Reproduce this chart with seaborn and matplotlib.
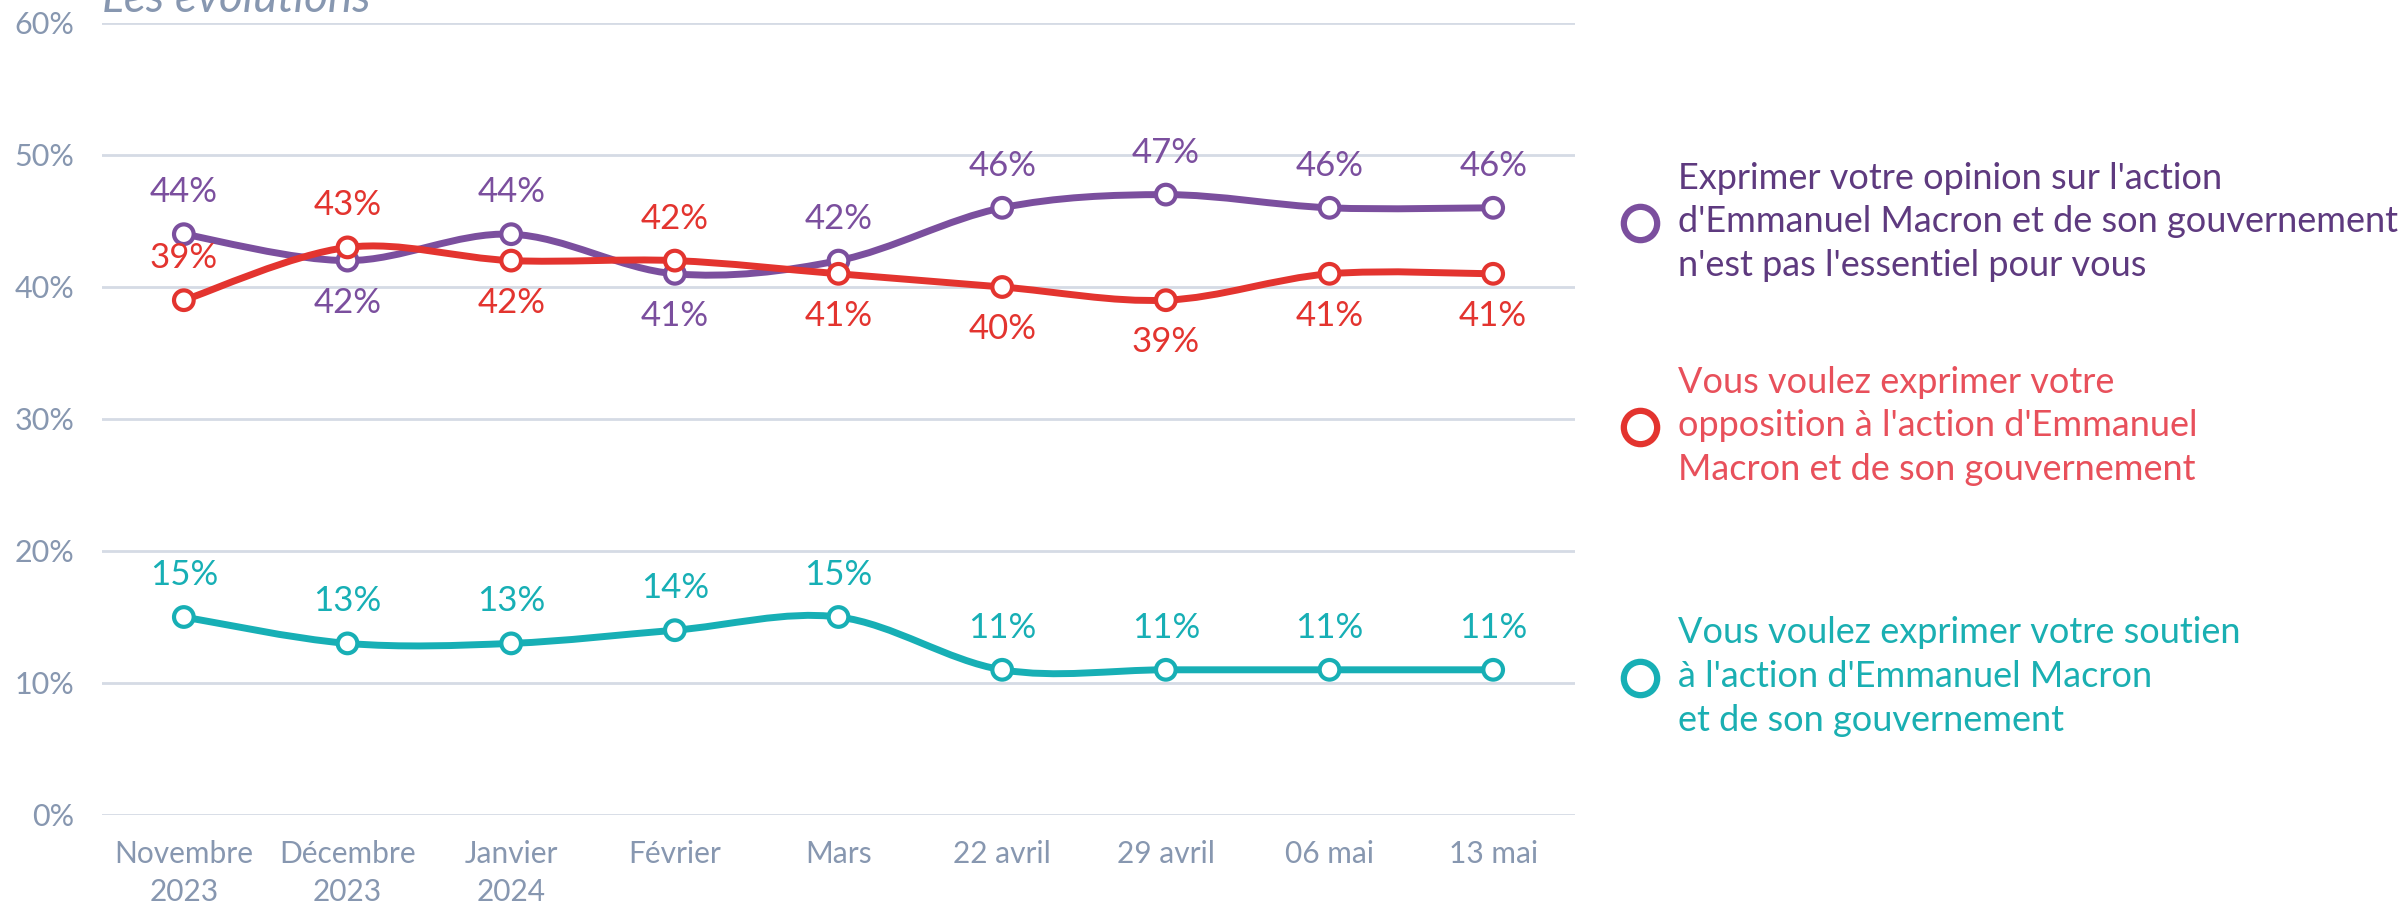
import numpy as np
import pandas as pd
import matplotlib.pyplot as plt
import seaborn as sns
from matplotlib.path import Path
from matplotlib.patches import PathPatch
from matplotlib.lines import Line2D

# ----- data -----
periods = ['Novembre\n2023', 'Décembre\n2023', 'Janvier\n2024', 'Février', 'Mars',
           '22 avril', '29 avril', '06 mai', '13 mai']
opinion_pas_essentiel = [44, 42, 44, 41, 42, 46, 47, 46, 46]
opposition = [39, 43, 42, 42, 41, 40, 39, 41, 41]
soutien = [15, 13, 13, 14, 15, 11, 11, 11, 11]

series_names = ["Exprimer votre opinion sur l'action\nd'Emmanuel Macron et de son gouvernement\nn'est pas l'essentiel pour vous",
                "Vous voulez exprimer votre\nopposition à l'action d'Emmanuel\nMacron et de son gouvernement",
                "Vous voulez exprimer votre soutien\nà l'action d'Emmanuel Macron\net de son gouvernement"]

# label side: +1 above the point, -1 below
label_side = [[1, -1, 1, -1, 1, 1, 1, 1, 1],
              [1, 1, -1, 1, -1, -1, -1, -1, -1],
              [1, 1, 1, 1, 1, 1, 1, 1, 1]]

line_colors = ['#7B4F9E', '#E3342F', '#17AFB5']
legend_text_colors = ['#5E3A7F', '#E8505B', '#1AAFB2']
grey = '#8797B0'

df = pd.DataFrame({'x': np.tile(np.arange(len(periods)), 3),
                   'value': opinion_pas_essentiel + opposition + soutien,
                   'serie': np.repeat(series_names, len(periods))})

plt.rcParams['font.family'] = ['Lato', 'DejaVu Sans']

fig = plt.figure(figsize=(24.02, 9.06), dpi=100)
ax = fig.add_axes([102 / 2402, 91 / 906, (1575 - 102) / 2402, (815 - 23) / 906])


#----------------------------------------------------------
def smooth_path(xs, ys):
  """Excel-like smoothed line as cubic Bezier path (Catmull-Rom control points)"""
  pts = np.column_stack([xs, ys]).astype(float)
  ext = np.vstack([pts[0], pts, pts[-1]])
  verts = [pts[0]]
  codes = [Path.MOVETO]
  for i in range(len(pts) - 1):
    p0, p1, p2, p3 = ext[i], ext[i + 1], ext[i + 2], ext[i + 3]
    verts += [p1 + (p2 - p0) / 6, p2 - (p3 - p1) / 6, p2]
    codes += [Path.CURVE4] * 3
  return Path(verts, codes)


for name, color in zip(series_names, line_colors):
  sub = df[df['serie'] == name]
  ax.add_patch(PathPatch(smooth_path(sub['x'], sub['value']), facecolor='none',
                         edgecolor=color, lw=5, zorder=2, capstyle='round'))

sns.scatterplot(data=df, x='x', y='value', hue='serie', palette=line_colors,
                marker='o', s=200, facecolor='white', linewidth=3, legend=False,
                zorder=3, ax=ax)
# white fill, coloured ring
for coll in ax.collections:
  coll.set_edgecolor(coll.get_facecolors())
  coll.set_facecolor('white')

# value labels
for k, (name, color) in enumerate(zip(series_names, line_colors)):
  sub = df[df['serie'] == name].reset_index(drop=True)
  for i, row in sub.iterrows():
    ax.annotate(f"{row['value']}%", (row['x'], row['value']),
                xytext=(0, 42 * label_side[k][i]), textcoords='offset pixels',
                ha='center', va='center', fontsize=25, color=color)

ax.set_xlim(-0.5, len(periods) - 0.5)
ax.set_ylim(0, 60)
ax.set_xticks(range(len(periods)))
ax.set_xticklabels(periods, fontsize=21.5, color=grey, linespacing=1.45)
ax.set_yticks(range(0, 61, 10))
ax.set_yticklabels([f'{v}%' for v in range(0, 61, 10)], fontsize=22, color=grey)
ax.tick_params(axis='both', length=0)
ax.tick_params(axis='x', pad=18)
ax.tick_params(axis='y', pad=20)
ax.yaxis.grid(True, color='#D5DBE5', lw=2)
ax.set_axisbelow(True)
for s in ax.spines.values():
  s.set_visible(False)
ax.set_xlabel('')
ax.set_ylabel('')

fig.text(102 / 2402, 1 - 12 / 906, 'Les évolutions', fontsize=33, style='italic',
         color=grey, ha='left', va='baseline')

# legend entries
leg_y = [0.755, 0.530, 0.253]
for name, color, tcolor, y in zip(series_names, line_colors, legend_text_colors, leg_y):
  h = Line2D([], [], ls='none', marker='o', markersize=24, markerfacecolor='white',
             markeredgecolor=color, markeredgewidth=4.5)
  leg = fig.legend([h], [name], loc='center left', bbox_to_anchor=(1622 / 2402, y),
                   frameon=False, fontsize=26, handlelength=1, handletextpad=0.55,
                   borderpad=0, borderaxespad=0)
  for t in leg.get_texts():
    t.set_color(tcolor)
    t.set_linespacing(1.4)

fig.savefig('out.png', dpi=100)
